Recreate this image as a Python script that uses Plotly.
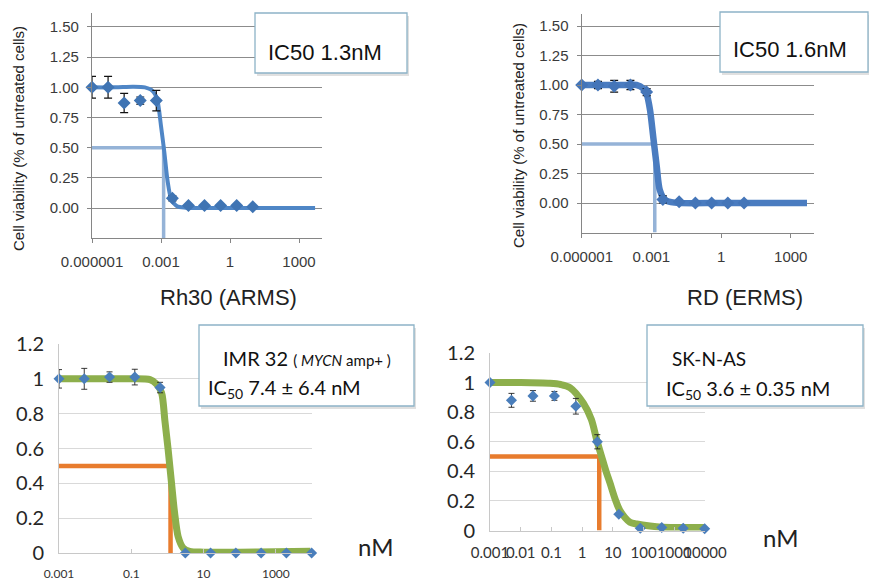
import plotly.graph_objects as go

W, H = 869, 582

# ---------------- data ----------------
# Top panels (concentration in uM, log axis)
conc_top = [1e-6, 5e-6, 2.5e-5, 1.25e-4, 6.25e-4, 3.125e-3, 1.5625e-2, 7.8125e-2, 0.390625, 1.953125, 9.765625]
rh30_y = [1.00, 1.00, 0.87, 0.89, 0.89, 0.08, 0.02, 0.02, 0.02, 0.02, 0.01]
rh30_err = [0.09, 0.09, 0.08, 0.03, 0.085, 0.02, None, None, None, None, None]
rh30_fit_x = [1e-6, 1e-5, 6e-5, 2e-4, 3.7e-4, 5.6e-4, 7.2e-4, 1e-3, 1.4e-3, 1.95e-3, 2.75e-3, 5e-3, 1.2e-2, 1, 100, 5000]
rh30_fit_y = [1.0, 1.0, 1.005, 1.0, 0.98, 0.94, 0.88, 0.68, 0.46, 0.22, 0.08, 0.015, 0.003, 0.0, 0.0, 0.0]
rh30_ic50 = 0.0013

rd_y = [1.00, 1.00, 0.99, 1.00, 0.94, 0.03, 0.01, 0.00, 0.00, 0.00, 0.00]
rd_err = [None, 0.03, 0.05, 0.04, 0.03, 0.03, 0.01, None, None, None, None]
rd_fit_x = [1e-6, 1e-5, 1e-4, 2.3e-4, 4.5e-4, 6.3e-4, 8.7e-4, 1.2e-3, 1.7e-3, 2.3e-3, 3.9e-3, 1e-2, 1, 5000]
rd_fit_y = [1.0, 1.0, 1.0, 1.0, 0.97, 0.92, 0.79, 0.56, 0.31, 0.11, 0.025, 0.003, 0.0, 0.0]
rd_ic50 = 0.0014

# Bottom panels (nM, log axis)
conc_bot = [0.001, 0.005, 0.025, 0.125, 0.625, 3.125, 15.625, 78.125, 390.625, 1953.125, 9765.625]
imr_y = [1.00, 1.00, 1.01, 1.01, 0.95, 0.00, 0.00, 0.00, 0.00, 0.00, 0.00]
imr_err = [0.053, 0.06, 0.03, 0.045, 0.03, None, None, None, None, None, None]
imr_fit_x = [0.001, 0.01, 0.1, 0.33, 0.5, 0.69, 0.85, 1.05, 1.3, 1.58, 1.98, 2.7, 4.1, 10, 100, 1000, 9000]
imr_fit_y = [1.0, 1.0, 1.0, 0.995, 0.97, 0.92, 0.76, 0.59, 0.40, 0.23, 0.094, 0.03, 0.01, 0.005, 0.005, 0.007, 0.01]
imr_ic50 = 1.22

sk_y = [1.00, 0.88, 0.91, 0.91, 0.84, 0.60, 0.11, 0.015, 0.02, 0.015, 0.012]
sk_err = [None, 0.047, 0.036, 0.03, 0.053, 0.048, None, None, None, None, None]
sk_fit_x = [0.001, 0.01, 0.09, 0.2, 0.4, 1.1, 2.0, 3.0, 4.3, 6.0, 8.1, 12, 17, 36, 60, 162, 400, 1000, 10000]
sk_fit_y = [1.0, 1.0, 0.995, 0.987, 0.966, 0.86, 0.75, 0.61, 0.50, 0.40, 0.32, 0.21, 0.135, 0.056, 0.044, 0.03, 0.022, 0.021, 0.02]
sk_ic50 = 3.6

top_xticks = [1e-6, 1e-3, 1, 1000]
top_xlabels = ["0.000001", "0.001", "1", "1000"]
top_yticks = [0, 0.25, 0.5, 0.75, 1.0, 1.25, 1.5]
top_ylabels = ["0.00", "0.25", "0.50", "0.75", "1.00", "1.25", "1.50"]
imr_xticks = [0.001, 0.1, 10, 1000]
imr_xlabels = ["0.001", "0.1", "10", "1000"]
sk_xticks = [0.001, 0.01, 0.1, 1, 10, 100, 1000, 10000]
sk_xlabels = ["0.001", "0.01", "0.1", "1", "10", "100", "1000", "10000"]
bot_yticks = [0, 0.2, 0.4, 0.6, 0.8, 1.0, 1.2]
bot_ylabels = ["0", "0.2", "0.4", "0.6", "0.8", "1", "1.2"]

# ---------------- helpers ----------------
def px(x):
    return x / W

def py(y):
    return 1 - y / H

ARIAL = "Liberation Sans, Arial, sans-serif"
CALI = "Lato, Carlito, sans-serif"

fig = go.Figure()

panels = {
    1: dict(x=(92, 322), y=(238.2, 12.5)),
    2: dict(x=(581.7, 814), y=(232.5, 14.2)),
    3: dict(x=(59, 312), y=(553, 344)),
    4: dict(x=(490, 705), y=(530.5, 353)),
}

# ----- top panels -----
top_specs = [
    (1, rh30_fit_x, rh30_fit_y, rh30_y, rh30_err, rh30_ic50, "#4f86c6", 4, "#3f74b3", [-0.25, 1.62]),
    (2, rd_fit_x, rd_fit_y, rd_y, rd_err, rd_ic50, "#4a7cc0", 6.5, "#4475b8", [-0.25, 1.6]),
]
for i, fx, fy, yy, ee, ic, lc, lw, mc, yr in top_specs:
    xa, ya = (f"x{i}", f"y{i}") if i > 1 else ("x", "y")
    fig.add_trace(go.Scatter(x=[1e-6, ic, ic], y=[0.5, 0.5, -0.25], mode="lines",
                             line=dict(color="#95b3d7", width=3.5), xaxis=xa, yaxis=ya,
                             showlegend=False, hoverinfo="skip"))
    fig.add_trace(go.Scatter(x=fx, y=fy, mode="lines", line=dict(color=lc, width=lw, shape="spline", smoothing=0.8),
                             xaxis=xa, yaxis=ya, showlegend=False))
    fig.add_trace(go.Scatter(x=conc_top, y=yy, mode="markers",
                             marker=dict(symbol="diamond", size=10, color=mc),
                             error_y=dict(type="data", array=ee, color="#111111", thickness=1.2, width=4),
                             xaxis=xa, yaxis=ya, showlegend=False, cliponaxis=False))

# ----- bottom panels -----
bot_specs = [
    (3, imr_fit_x, imr_fit_y, imr_y, imr_err, imr_ic50),
    (4, sk_fit_x, sk_fit_y, sk_y, sk_err, sk_ic50),
]
for i, fx, fy, yy, ee, ic in bot_specs:
    xa, ya = f"x{i}", f"y{i}"
    fig.add_trace(go.Scatter(x=[0.001, ic, ic], y=[0.5, 0.5, 0], mode="lines",
                             line=dict(color="#e87c2e", width=4.5), xaxis=xa, yaxis=ya,
                             showlegend=False, hoverinfo="skip"))
    fig.add_trace(go.Scatter(x=fx, y=fy, mode="lines", line=dict(color="#8daf4c", width=7, shape="spline", smoothing=0.8),
                             xaxis=xa, yaxis=ya, showlegend=False, cliponaxis=False))
    fig.add_trace(go.Scatter(x=conc_bot, y=yy, mode="markers",
                             marker=dict(symbol="diamond", size=8.5, color="#4a7ebb"),
                             error_y=dict(type="data", array=ee, color="#222222", thickness=0.9, width=3),
                             xaxis=xa, yaxis=ya, showlegend=False, cliponaxis=False))

layout = dict(width=W, height=H, margin=dict(l=0, r=0, t=0, b=0, autoexpand=False),
              paper_bgcolor="white", plot_bgcolor="white", showlegend=False)

for i, p in panels.items():
    xk = "xaxis" if i == 1 else f"xaxis{i}"
    yk = "yaxis" if i == 1 else f"yaxis{i}"
    xdom = [px(p["x"][0]), px(p["x"][1])]
    ydom = [py(p["y"][0]), py(p["y"][1])]
    anchor_y = "y" if i == 1 else f"y{i}"
    anchor_x = "x" if i == 1 else f"x{i}"
    if i in (1, 2):
        layout[xk] = dict(type="log", range=[-6, 4], domain=xdom, anchor=anchor_y, automargin=False,
                          tickvals=top_xticks, ticktext=top_xlabels, showgrid=False, tickangle=0,
                          showline=True, linecolor="#868686", linewidth=1.3,
                          ticks="outside", ticklen=4, tickcolor="#868686",
                          tickfont=dict(family=ARIAL, size=15, color="#3a3a3a"),
                          ticklabelstandoff=6, zeroline=False, fixedrange=True)
        layout[yk] = dict(range=top_specs[i - 1][9], domain=ydom, anchor=anchor_x, automargin=False,
                          tickvals=top_yticks, ticktext=top_ylabels,
                          showgrid=True, gridcolor="#8c8c8c", gridwidth=1,
                          showline=True, linecolor="#868686", linewidth=1.3,
                          ticks="outside", ticklen=4, tickcolor="#868686",
                          tickfont=dict(family=ARIAL, size=15, color="#3a3a3a"),
                          ticklabelstandoff=5, zeroline=False, fixedrange=True)
    else:
        tv, tt = (imr_xticks, imr_xlabels) if i == 3 else (sk_xticks, sk_xlabels)
        fs = 12 if i == 3 else 15
        layout[xk] = dict(type="log", range=[-3, 4], domain=xdom, anchor=anchor_y, automargin=False,
                          tickvals=tv, ticktext=tt, showgrid=False, tickangle=0,
                          showline=True, linecolor="#c8c8c8", linewidth=1,
                          ticks="inside", ticklen=4, tickcolor="#c8c8c8",
                          tickfont=dict(family=CALI, size=fs, color="#333333"),
                          ticklabelstandoff=10 if i == 3 else 8, zeroline=False, fixedrange=True)
        layout[yk] = dict(range=[0, 1.2], domain=ydom, anchor=anchor_x, automargin=False,
                          tickvals=bot_yticks, ticktext=bot_ylabels,
                          showgrid=True, gridcolor="#d9d9d9", gridwidth=1,
                          showline=True, linecolor="#c8c8c8", linewidth=1,
                          ticks="", tickfont=dict(family=CALI, size=20, color="#262626"),
                          ticklabelstandoff=10, zeroline=False, fixedrange=True)

shapes = []
annotations = []

def box(x0, y0, x1, y1):
    shapes.append(dict(type="rect", xref="paper", yref="paper", x0=px(x0 + 2), x1=px(x1 + 2),
                       y0=py(y1 + 3), y1=py(y0 + 3), line=dict(width=0), fillcolor="rgba(0,0,0,0.12)", layer="above"))
    shapes.append(dict(type="rect", xref="paper", yref="paper", x0=px(x0), x1=px(x1),
                       y0=py(y1), y1=py(y0), line=dict(color="#8db3c7", width=1.3), fillcolor="white", layer="above"))

def text(x, y, s, size, family, anchor="center", color="#111111", angle=0):
    annotations.append(dict(xref="paper", yref="paper", x=px(x), y=py(y), text=s, showarrow=False,
                            xanchor=anchor, yanchor="middle", textangle=angle,
                            font=dict(family=family, size=size, color=color)))

box(255, 13, 407, 73)
text(325, 52, "IC50 1.3nM", 22, ARIAL)
box(720, 12, 868, 72)
text(790, 49, "IC50 1.6nM", 22, ARIAL)

box(199, 325, 414, 406)
text(221, 358, "IMR 32 <span style='font-size:15px'>( <i>MYCN</i> amp+ )</span>", 20, CALI, anchor="left")
text(206, 388, "IC<sub>50</sub> 7.4 ± 6.4 nM", 20, CALI, anchor="left")
box(647, 325, 863, 406)
text(670, 358, "SK-N-AS", 19, CALI, anchor="left")
text(664, 389, "IC<sub>50</sub> 3.6 ± 0.35 nM", 20, CALI, anchor="left")

text(18, 139, "Cell viability (% of untreated cells)", 15, ARIAL, angle=-90, color="#222222")
text(518, 136, "Cell viability (% of untreated cells)", 15, ARIAL, angle=-90, color="#222222")
text(228, 297, "Rh30 (ARMS)", 22, ARIAL, color="#222222")
text(745, 297, "RD (ERMS)", 22, ARIAL, color="#222222")
text(375, 546, "nM", 24, CALI, color="#222222")
text(780, 537, "nM", 24, CALI, color="#222222")

layout["shapes"] = shapes
layout["annotations"] = annotations
fig.update_layout(**layout)
fig.write_html("out.html", config={"displayModeBar": False},
               post_script="document.body.style.margin='0';document.body.style.padding='0';document.body.style.overflow='hidden';")
